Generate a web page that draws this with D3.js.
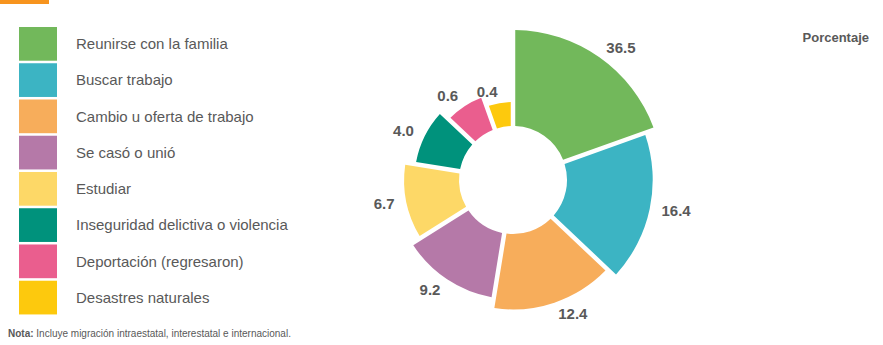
<!DOCTYPE html>
<html>
<head>
<meta charset="utf-8">
<script src="https://cdn.jsdelivr.net/npm/d3@7/dist/d3.min.js"></script>
<style>
  html, body { margin: 0; padding: 0; background: #fff; }
  svg { display: block; font-family: "Liberation Sans", Arial, sans-serif; }
</style>
</head>
<body>
<svg id="chart" width="883" height="345"></svg>
<script>
// Motivos de migración (porcentaje)
const categories = [
  "Reunirse con la familia",
  "Buscar trabajo",
  "Cambio u oferta de trabajo",
  "Se casó o unió",
  "Estudiar",
  "Inseguridad delictiva o violencia",
  "Deportación (regresaron)",
  "Desastres naturales"
];
const values = [36.5, 16.4, 12.4, 9.2, 6.7, 4.0, 0.6, 0.4];
const colors = ["#72b85b", "#3cb4c3", "#f7ad5b", "#b579a8", "#fdd867", "#00927c", "#ea5e8e", "#fdc90d"];

const unitLabel = "Porcentaje";
const note = "Incluye migración intraestatal, interestatal e internacional.";

const svg = d3.select("#chart");

// Accent bar, top-left
svg.append("rect").attr("x", 0).attr("y", 0).attr("width", 49).attr("height", 4).attr("fill", "#f7941e");

// Legend
const legendY = d3.scaleBand().domain(d3.range(categories.length)).range([27, 27 + 35.93 * categories.length]).paddingInner(0.07).paddingOuter(0);
const legend = svg.append("g");
const rows = legend.selectAll("g").data(categories).join("g")
  .attr("transform", (d, i) => `translate(0,${legendY(i)})`);
rows.append("rect").attr("x", 19).attr("width", 38).attr("height", legendY.bandwidth())
  .attr("fill", (d, i) => colors[i]);
rows.append("text").attr("x", 76).attr("y", legendY.bandwidth() / 2)
  .attr("dy", "0.35em").attr("font-size", 15).attr("fill", "#595959").text(d => d);

// Rose-style donut: slices ordered by rank, larger ranks get wider angle and longer radius
const cx = 513, cy = 180;
const n = values.length;
const order = d3.range(n).sort((a, b) => values[b] - values[a]);
const rank = new Array(n);
order.forEach((idx, r) => rank[idx] = r);

const angleWeight = d3.scaleLinear().domain([0, n - 1]).range([71.5, 20]);
const outerR = d3.scaleLinear().domain([0, n - 1]).range([150, 78]);
const innerR = 54;

const pie = d3.pie().sort(null).value((d, i) => angleWeight(rank[i]));
const arcs = pie(values);

const arc = d3.arc()
  .innerRadius(innerR)
  .outerRadius((d) => outerR(rank[d.index]))
  .padAngle(0.045)
  .padRadius(100);

const g = svg.append("g").attr("transform", `translate(${cx},${cy})`);
g.selectAll("path").data(arcs).join("path")
  .attr("d", arc)
  .attr("fill", d => colors[d.index]);

// Value labels just outside each slice, anchored away from the centre
const midAngle = d => (d.startAngle + d.endAngle) / 2;
g.selectAll("text.val").data(arcs).join("text")
  .attr("class", "val")
  .attr("transform", d => {
    const a = midAngle(d);
    const r = outerR(rank[d.index]) + 12;
    return `translate(${r * Math.sin(a)},${-r * Math.cos(a)})`;
  })
  .attr("text-anchor", d => Math.sin(midAngle(d)) >= 0 ? "start" : "end")
  .attr("dy", "0.35em")
  .attr("font-size", 15)
  .attr("font-weight", "bold")
  .attr("fill", "#595959")
  .text(d => d3.format(".1f")(d.data));

// Unit label
svg.append("text").attr("x", 869).attr("y", 37).attr("dy", "0.35em")
  .attr("text-anchor", "end").attr("font-size", 13).attr("font-weight", "bold")
  .attr("fill", "#595959").text(unitLabel);

// Note
const noteText = svg.append("text").attr("x", 8).attr("y", 333).attr("dy", "0.35em")
  .attr("font-size", 10).attr("fill", "#595959");
noteText.append("tspan").attr("font-weight", "bold").text("Nota:");
noteText.append("tspan").text(" " + note);
</script>
</body>
</html>
